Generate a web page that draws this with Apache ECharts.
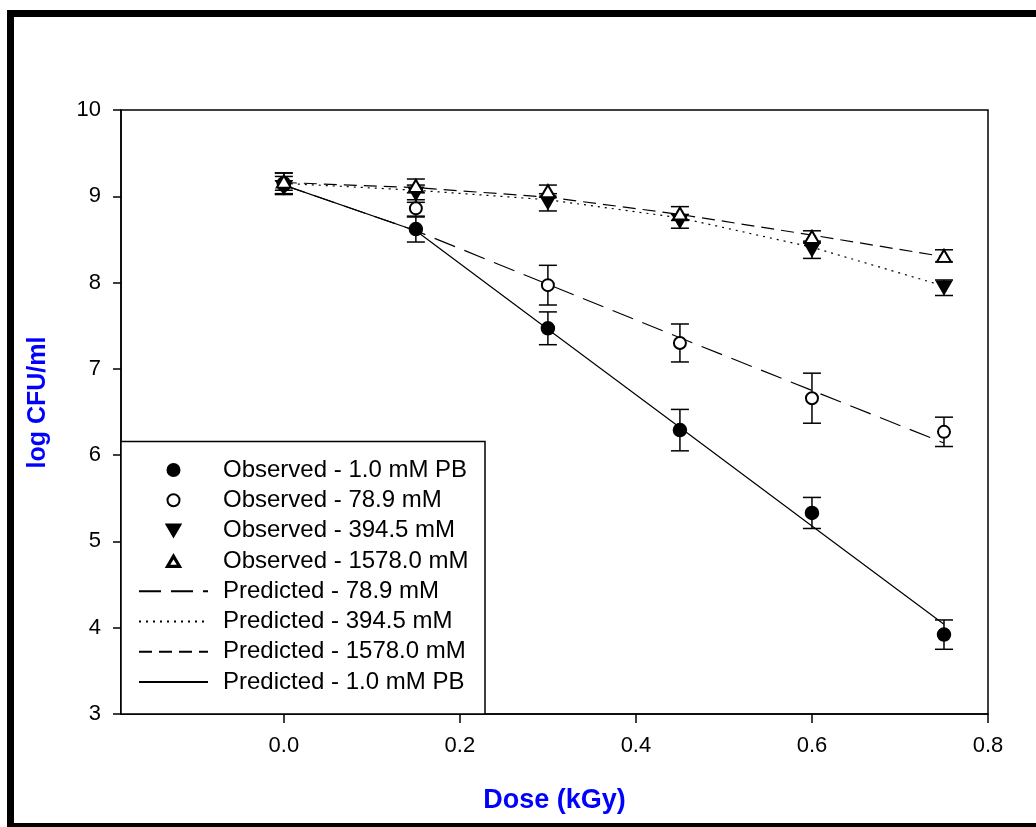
<!DOCTYPE html>
<html>
<head>
<meta charset="utf-8">
<script src="https://cdn.jsdelivr.net/npm/echarts@6/dist/echarts.min.js"></script>
<style>
  html, body { margin: 0; padding: 0; background: #fff; }
  #chart { width: 1036px; height: 827px; }
</style>
</head>
<body>
<div id="chart"></div>
<script>
// Dose levels (kGy) and x-axis tick values
const doses = [0, 0.15, 0.3, 0.45, 0.6, 0.75];
const xTicks = [0, 0.2, 0.4, 0.6, 0.8];

// Observed survival (log CFU/ml) and standard deviations
const obsPB = [9.15, 8.62, 7.47, 6.29, 5.33, 3.92];
const errPB = [0.12, 0.15, 0.19, 0.24, 0.18, 0.17];
const obs789 = [9.13, 8.86, 7.97, 7.30, 6.66, 6.27];
const err789 = [0.10, 0.10, 0.23, 0.22, 0.29, 0.17];
const obs3945 = [9.10, 9.03, 8.93, 8.71, 8.38, 7.94];
const err3945 = [0.08, 0.10, 0.10, 0.08, 0.10, 0.09];
const obs1578 = [9.17, 9.12, 9.06, 8.80, 8.53, 8.31];
const err1578 = [0.10, 0.08, 0.07, 0.08, 0.07, 0.07];

// Model predictions at the same doses
const predPB = [9.13, 8.60, 7.46, 6.32, 5.18, 4.04];
const pred789 = [9.13, 8.60, 7.98, 7.36, 6.75, 6.14];
const pred3945 = [9.15, 9.07, 8.96, 8.75, 8.41, 7.96];
const pred1578 = [9.16, 9.10, 8.99, 8.79, 8.55, 8.30];

const FONT = 'Liberation Sans, Arial, sans-serif';
const BLUE = '#0000ff';

const pairs = (ys) => doses.map((d, i) => [d, ys[i]]);
const bars = (ys, es) => doses.map((d, i) => [d, ys[i] - es[i], ys[i] + es[i]]);

function errorBarSeries(ys, es) {
  return {
    type: 'custom',
    silent: true,
    z: 3,
    data: bars(ys, es),
    encode: { x: 0, y: [1, 2] },
    renderItem: function (params, api) {
      const lo = api.coord([api.value(0), api.value(1)]);
      const hi = api.coord([api.value(0), api.value(2)]);
      const half = 9;
      const st = { stroke: '#000', lineWidth: 1.5 };
      return {
        type: 'group',
        children: [
          { type: 'line', shape: { x1: lo[0], y1: lo[1], x2: hi[0], y2: hi[1] }, style: st },
          { type: 'line', shape: { x1: lo[0] - half, y1: lo[1], x2: lo[0] + half, y2: lo[1] }, style: st },
          { type: 'line', shape: { x1: hi[0] - half, y1: hi[1], x2: hi[0] + half, y2: hi[1] }, style: st }
        ]
      };
    }
  };
}

function predLine(name, ys, dash) {
  return {
    name: name,
    type: 'line',
    data: pairs(ys),
    symbol: 'none',
    z: 2,
    silent: true,
    lineStyle: { color: '#000', width: 1.2, type: dash },
    itemStyle: { color: '#000' }
  };
}

function observed(name, ys, symbol, size, extra) {
  return Object.assign({
    name: name,
    type: 'scatter',
    data: pairs(ys),
    symbol: symbol,
    symbolSize: size,
    z: 5,
    silent: true,
    itemStyle: { color: '#000', borderColor: '#000', borderWidth: 1.5, opacity: 1 }
  }, extra || {});
}

const chart = echarts.init(document.getElementById('chart'), null, { renderer: 'canvas' });

chart.setOption({
  animation: false,
  backgroundColor: '#fff',
  grid: {
    left: 121, top: 110, width: 867, height: 604,
    show: true, borderColor: '#000', borderWidth: 1.5, backgroundColor: 'transparent',
    containLabel: false, outerBoundsMode: 'none'
  },
  xAxis: {
    type: 'value',
    min: -0.185,
    max: 0.8,
    name: 'Dose (kGy)',
    nameLocation: 'middle',
    nameGap: 73,
    nameMoveOverlap: false,
    nameTextStyle: { fontFamily: FONT, fontSize: 27, fontWeight: 'bold', color: BLUE },
    axisLine: { onZero: false, lineStyle: { color: '#000', width: 1.5 } },
    axisTick: { show: true, inside: false, length: 9, customValues: xTicks, lineStyle: { color: '#000', width: 1.5 } },
    axisLabel: {
      customValues: xTicks, margin: 21,
      fontFamily: FONT, fontSize: 22, color: '#000',
      formatter: (v) => Number(v).toFixed(1)
    },
    splitLine: { show: false }
  },
  yAxis: {
    type: 'value',
    min: 3,
    max: 10,
    interval: 1,
    name: 'log CFU/ml',
    nameLocation: 'middle',
    nameGap: 70,
    nameMoveOverlap: false,
    nameTextStyle: { fontFamily: FONT, fontSize: 25, fontWeight: 'bold', color: BLUE, padding: [0, 0, 0, 19] },
    axisLine: { onZero: false, lineStyle: { color: '#000', width: 1.5 } },
    axisTick: { show: true, inside: false, length: 8, lineStyle: { color: '#000', width: 1.5 } },
    axisLabel: { margin: 20, fontFamily: FONT, fontSize: 22, color: '#000' },
    splitLine: { show: false }
  },
  legend: {
    orient: 'vertical',
    left: 138,
    top: 458,
    padding: 0,
    itemWidth: 69,
    itemHeight: 12,
    itemGap: 6.3,
    selectedMode: false,
    z: 6,
    textStyle: { fontFamily: FONT, fontSize: 24, color: '#000', lineHeight: 24, padding: [0, 0, 0, 10] },
    data: [
      { name: 'Observed - 1.0 mM PB', icon: 'circle' },
      { name: 'Observed - 78.9 mM', icon: 'emptyCircle' },
      { name: 'Observed - 394.5 mM', icon: 'path://M0,0L14,0L7,12Z' },
      { name: 'Observed - 1578.0 mM', icon: 'path://M7,0L14,12L0,12Z M7,2.6L2,10.9L12,10.9Z' },
      { name: 'Predicted - 78.9 mM', itemStyle: { opacity: 0 } },
      { name: 'Predicted - 394.5 mM', itemStyle: { opacity: 0 } },
      { name: 'Predicted - 1578.0 mM', itemStyle: { opacity: 0 } },
      { name: 'Predicted - 1.0 mM PB', itemStyle: { opacity: 0 } }
    ]
  },
  graphic: [
    {
      type: 'rect', silent: true, z: 0,
      shape: { x: 10.5, y: 13.5, width: 1100, height: 813 },
      style: { fill: 'none', stroke: '#000', lineWidth: 7 }
    },
    {
      type: 'rect', silent: true, z: 3,
      shape: { x: 121, y: 441.5, width: 364, height: 272.5 },
      style: { fill: '#fff', stroke: '#000', lineWidth: 1.5 }
    }
  ],
  series: [
    predLine('Predicted - 78.9 mM', pred789, [22, 10]),
    predLine('Predicted - 394.5 mM', pred3945, [2, 5]),
    predLine('Predicted - 1578.0 mM', pred1578, [13, 7]),
    predLine('Predicted - 1.0 mM PB', predPB, 'solid'),
    errorBarSeries(obsPB, errPB),
    errorBarSeries(obs789, err789),
    errorBarSeries(obs3945, err3945),
    errorBarSeries(obs1578, err1578),
    observed('Observed - 1.0 mM PB', obsPB, 'circle', 13),
    observed('Observed - 78.9 mM', obs789, 'emptyCircle', 12),
    observed('Observed - 394.5 mM', obs3945, 'triangle', [15, 13], { symbolRotate: 180 }),
    observed('Observed - 1578.0 mM', obs1578, 'emptyTriangle', [14, 12])
  ]
});
</script>
</body>
</html>
